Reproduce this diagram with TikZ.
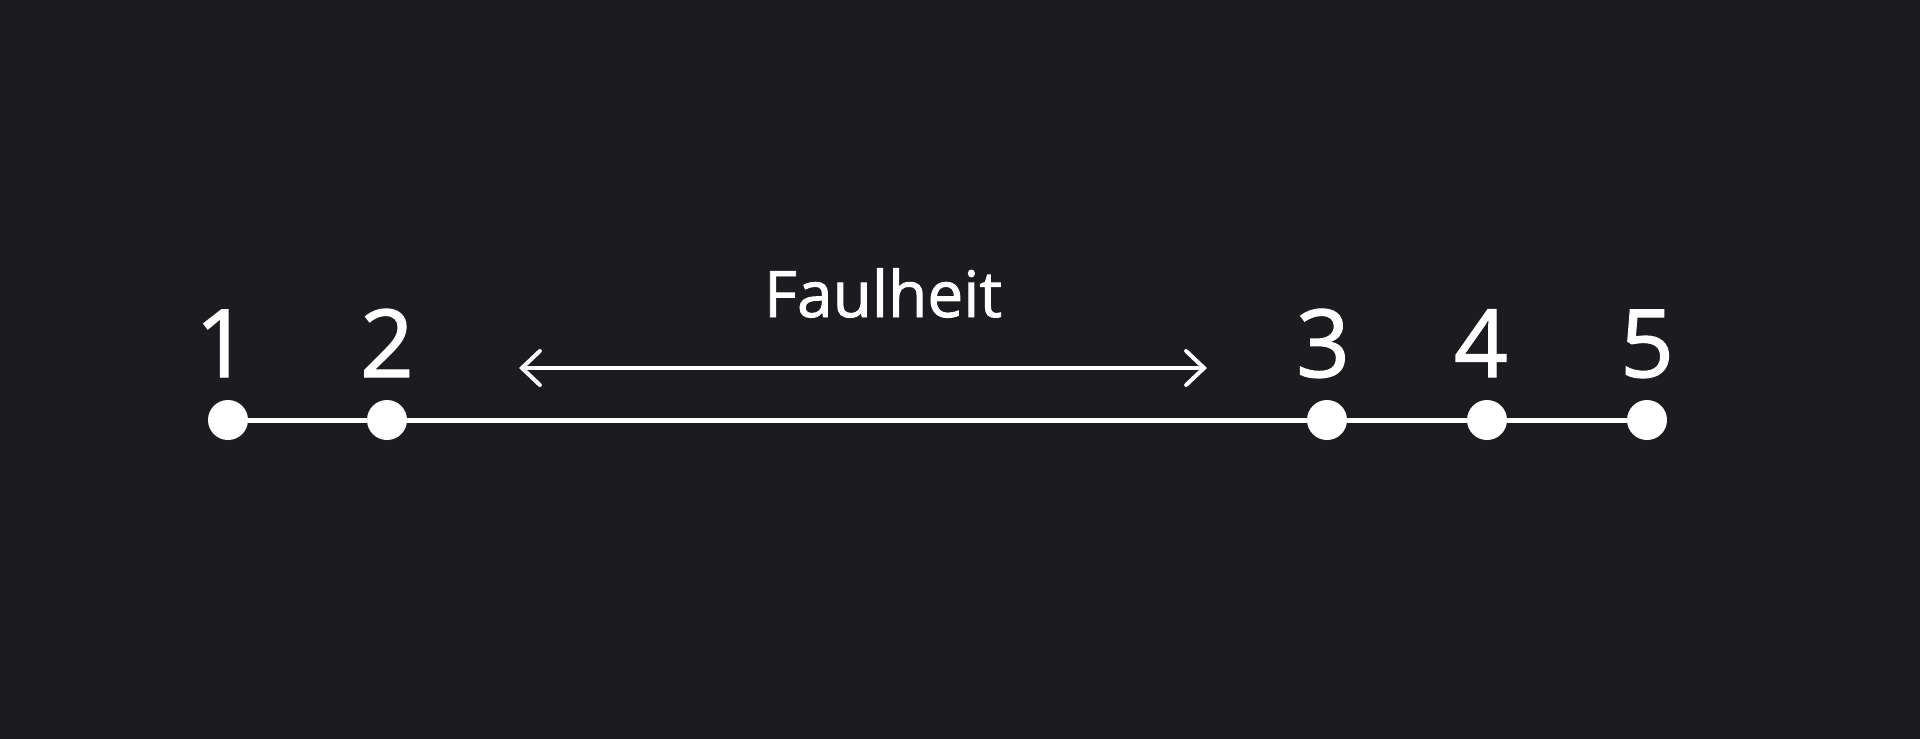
\documentclass[tikz,border=0pt]{standalone}
\usepackage{fontspec}
\setmainfont{Open Sans}
\newfontfamily\medfont{Open Sans}[FakeBold=1.4]
\usetikzlibrary{arrows.meta}
\definecolor{bg}{RGB}{28,27,31}
\tikzset{
  dot/.style={circle,fill=white,draw=none,minimum size=40pt,inner sep=0pt},
  numlabel/.style={text=white,anchor=base,inner sep=0pt,font=\medfont\fontsize{94}{100}\selectfont},
  toplabel/.style={text=white,anchor=base,inner sep=0pt,font=\medfont\fontsize{64}{70}\selectfont},
  axis/.style={white,line width=5pt},
  span/.style={white,line width=4pt,line cap=round,{Straight Barb[length=18pt,width=34pt,line width=4pt,line cap=round]}-{Straight Barb[length=18pt,width=34pt,line width=4pt,line cap=round]}}
}
\begin{document}
\begin{tikzpicture}[x=1pt,y=-1pt]
\fill[bg] (0,0) rectangle (1920,739);
\useasboundingbox (0,0) rectangle (1920,739);
\node[dot] (d1) at (228,420) {};
\node[dot] (d2) at (387,420) {};
\node[dot] (d3) at (1327,420) {};
\node[dot] (d4) at (1487,420) {};
\node[dot] (d5) at (1647,420) {};
\draw[axis] (d1) -- (d2);
\draw[axis] (d2) -- (d3);
\draw[axis] (d3) -- (d4);
\draw[axis] (d4) -- (d5);
\node[numlabel] (n1) at (222,377) {1};
\node[numlabel] (n2) at (387,377) {2};
\node[numlabel] (n3) at (1323,377) {3};
\node[numlabel] (n4) at (1481,377) {4};
\node[numlabel] (n5) at (1647,377) {5};
\coordinate (al) at (519,368);
\coordinate (ar) at (1207,368);
\draw[span] (al) -- (ar);
\node[toplabel] (lab) at (883,317) {Faulheit};
\end{tikzpicture}
\end{document}
